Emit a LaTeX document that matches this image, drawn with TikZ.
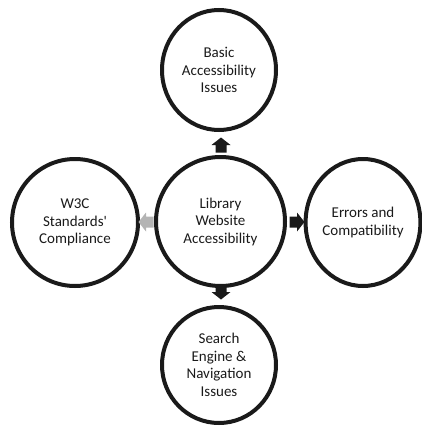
\documentclass[tikz,border=0pt]{standalone}
\usepackage{fontspec}
\setmainfont{Carlito}[Ligatures=TeXOff]
\usetikzlibrary{shapes.geometric}
\definecolor{ink}{HTML}{1A1A1A}
\definecolor{lightarrow}{HTML}{B4B4B4}
\begin{document}
\begin{tikzpicture}[x=1pt,y=-1pt,
  ring/.style={ellipse, draw=ink, line width=4pt, inner sep=0pt, align=center,
    font=\fontsize{15}{17.5}\selectfont, text=ink},
  blockarrow/.pic={\fill[pic actions] (-7.5,-5.5) -- (0,-5.5) -- (0,-9.5) -- (7.5,0) -- (0,9.5) -- (0,5.5) -- (-7.5,5.5) -- cycle;}]
\useasboundingbox (0,0) rectangle (422,428);
\node[ring, minimum width=129pt, minimum height=129pt] (c) at (220.5,221.5) {Library\\Website\\Accessibility};
\node[ring, minimum width=114pt, minimum height=120pt] (t) at (219,70) {Basic\\Accessibility\\Issues};
\node[ring, minimum width=114pt, minimum height=116pt] (b) at (219,365) {Search\\Engine \&\\Navigation\\Issues};
\node[ring, minimum width=126pt, minimum height=127pt] (l) at (75,222.5) {W3C\\Standards'\\Compliance};
\node[ring, minimum width=111pt, minimum height=127pt] (r) at (363,222.5) {Errors and\\Compatibility};
\pic[fill=ink, rotate=90] at (221,145) {blockarrow};
\pic[fill=ink, rotate=-90] at (221,292) {blockarrow};
\pic[fill=ink] at (297,222) {blockarrow};
\pic[fill=lightarrow, rotate=180] at (146,222) {blockarrow};
\end{tikzpicture}
\end{document}
